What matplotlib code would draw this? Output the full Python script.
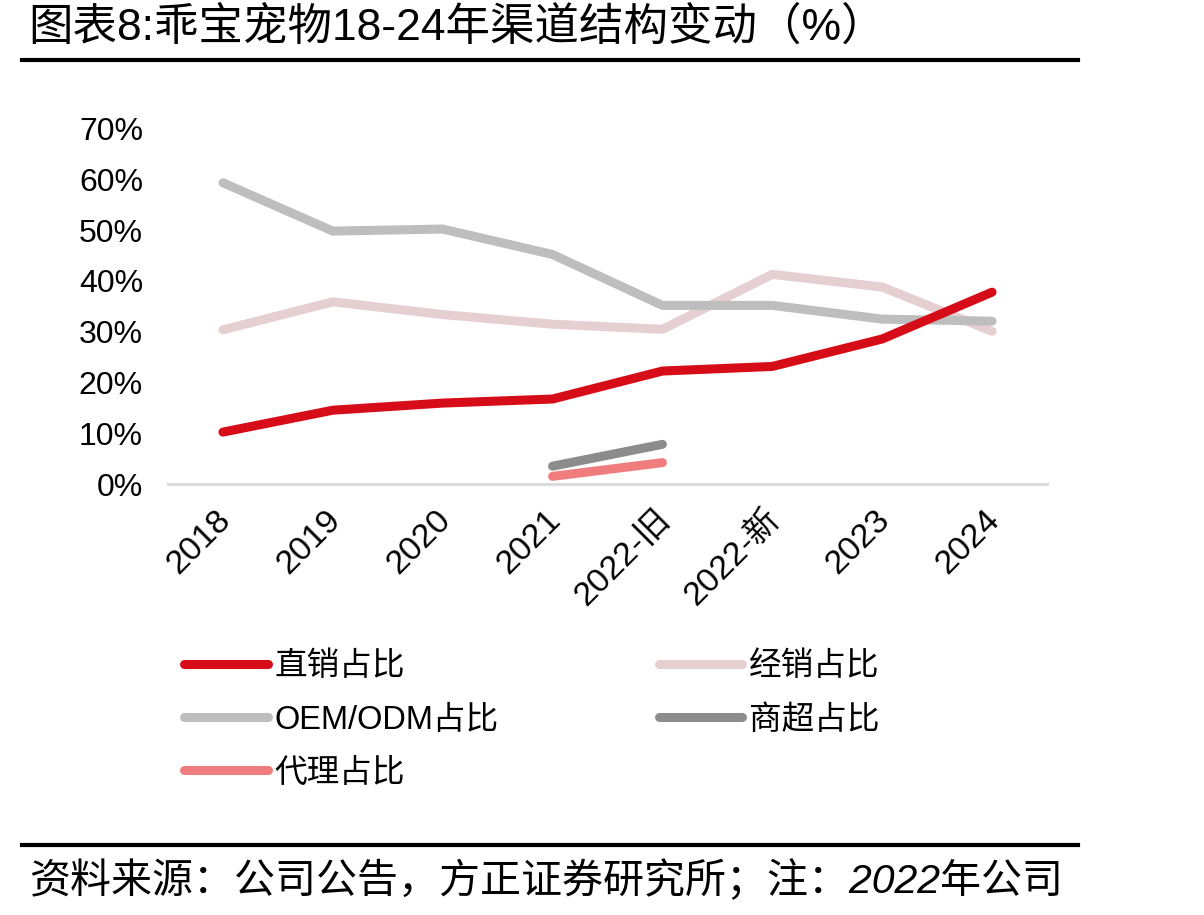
import matplotlib
matplotlib.use("Agg")
import matplotlib.pyplot as plt
import matplotlib.transforms as mtransforms
import numpy as np

plt.rcParams['font.family'] = ['Liberation Sans', 'Noto Sans CJK SC']

# data (% share by channel)
years = ['2018', '2019', '2020', '2021', '2022-旧', '2022-新', '2023', '2024']
direct = [10.3, 14.6, 16.0, 16.8, 22.3, 23.2, 28.6, 37.8]
dealer = [30.4, 35.9, 33.4, 31.5, 30.5, 41.3, 38.8, 30.1]
oem = [59.3, 49.8, 50.2, 45.2, 35.2, 35.2, 32.5, 32.1]
retail = [np.nan, np.nan, np.nan, 3.6, 7.9, np.nan, np.nan, np.nan]
agent = [np.nan, np.nan, np.nan, 1.6, 4.3, np.nan, np.nan, np.nan]

yticks = [0, 10, 20, 30, 40, 50, 60, 70]

fig = plt.figure(figsize=(12.04, 9.15), dpi=100)
ax = fig.add_axes([168 / 1204, 1 - 484.5 / 915, (1047 - 168) / 1204, (484.5 - 128.3) / 915])

x = np.arange(len(years))
lw = 6.5
kw = dict(lw=lw, solid_capstyle='round', solid_joinstyle='round')
l_direct, = ax.plot(x, direct, color='#D70C19', label='直销占比', zorder=5, **kw)
l_dealer, = ax.plot(x, dealer, color='#E6CFD0', label='经销占比', zorder=3, **kw)
l_oem, = ax.plot(x, oem, color='#BEBEBE', label='OEM/ODM占比', zorder=4, **kw)
l_retail, = ax.plot(x, retail, color='#8C8C8C', label='商超占比', zorder=4, **kw)
l_agent, = ax.plot(x, agent, color='#EF7D7D', label='代理占比', zorder=4, **kw)

ax.set_xlim(-0.5, len(years) - 0.5)
ax.set_ylim(0, 70)
ax.set_yticks(yticks)
ax.set_yticklabels([f'{v}%' for v in yticks], fontsize=23)
ax.set_xticks(x)
ax.set_xticklabels(years, fontsize=24.5, rotation=45, ha='right', va='top',
                   rotation_mode='default')
ax.tick_params(axis='both', length=0)
ax.tick_params(axis='y', pad=18)
ax.tick_params(axis='x', pad=14)
shift = mtransforms.ScaledTranslation(14 / 100, 0, fig.dpi_scale_trans)
for lab in ax.get_xticklabels():
    lab.set_transform(lab.get_transform() + shift)

for s in ['top', 'right', 'left']:
    ax.spines[s].set_visible(False)
ax.spines['bottom'].set_color('#D9D9D9')
ax.spines['bottom'].set_linewidth(2)

handles = [l_direct, l_oem, l_agent, l_dealer, l_retail]
fig.legend(handles, [h.get_label() for h in handles], ncol=2, frameon=False,
           loc='upper left', bbox_to_anchor=(155 / 1204, 1 - 622 / 915),
           fontsize=23.5, handlelength=2.55, handletextpad=0.22,
           labelspacing=0.68, columnspacing=4.9)

# title and rules
fig.text(28 / 1204, 1 - 28 / 915, '图表8:乖宝宠物18-24年渠道结构变动（%）',
         fontsize=32, va='center', ha='left')
fig.add_artist(plt.Line2D([22 / 1204, 1078 / 1204], [1 - 60 / 915] * 2,
                          color='black', lw=3))
fig.add_artist(plt.Line2D([22 / 1204, 1078 / 1204], [1 - 845 / 915] * 2,
                          color='black', lw=3))
fig.text(30 / 1204, 1 - 880 / 915, '资料来源：公司公告，方正证券研究所；注：2022年公司',
         fontsize=29.5, va='center', ha='left', style='italic')

fig.savefig('out.png', dpi=100)
